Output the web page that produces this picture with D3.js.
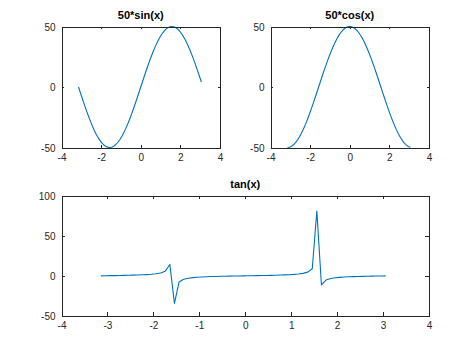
<!DOCTYPE html>
<html><head><meta charset="utf-8">
<script src="https://cdn.jsdelivr.net/npm/d3@7"></script>
<style>
html,body{margin:0;padding:0;background:#fff;}
svg{display:block;font-family:"Liberation Sans",Arial,Helvetica,sans-serif;}
</style></head>
<body>
<svg id="fig" width="474" height="355"></svg>
<script>
const xs = [-3.1416,-3.0416,-2.9416,-2.8416,-2.7416,-2.6416,-2.5416,-2.4416,-2.3416,-2.2416,-2.1416,-2.0416,-1.9416,-1.8416,-1.7416,-1.6416,-1.5416,-1.4416,-1.3416,-1.2416,-1.1416,-1.0416,-0.9416,-0.8416,-0.7416,-0.6416,-0.5416,-0.4416,-0.3416,-0.2416,-0.1416,-0.0416,0.0584,0.1584,0.2584,0.3584,0.4584,0.5584,0.6584,0.7584,0.8584,0.9584,1.0584,1.1584,1.2584,1.3584,1.4584,1.5584,1.6584,1.7584,1.8584,1.9584,2.0584,2.1584,2.2584,2.3584,2.4584,2.5584,2.6584,2.7584,2.8584,2.9584,3.0584];
const sinVals = [0,-4.99,-9.93,-14.78,-19.47,-23.97,-28.23,-32.21,-35.87,-39.17,-42.07,-44.56,-46.60,-48.18,-49.27,-49.87,-49.98,-49.58,-48.69,-47.32,-45.46,-43.16,-40.42,-37.28,-33.78,-29.92,-25.77,-21.37,-16.75,-11.96,-7.06,-2.08,2.92,7.88,12.78,17.54,22.13,26.49,30.59,34.39,37.84,40.91,43.58,45.81,47.58,48.87,49.68,50.00,49.81,49.12,47.95,46.29,44.17,41.62,38.64,35.27,31.56,27.53,23.23,18.69,13.97,9.11,4.16];
const cosVals = [-50,-49.75,-49.00,-47.77,-46.05,-43.88,-41.27,-38.24,-34.84,-31.08,-27.02,-22.68,-18.12,-13.38,-8.50,-3.54,1.46,6.44,11.36,16.17,20.81,25.24,29.43,33.32,36.87,40.06,42.85,45.21,47.11,48.55,49.50,49.96,49.92,49.38,48.34,46.83,44.84,42.41,39.55,36.30,32.68,28.74,24.52,20.04,15.37,10.54,5.61,0.62,-4.38,-9.33,-14.19,-18.90,-23.43,-27.72,-31.74,-35.44,-38.78,-41.74,-44.28,-46.38,-48.01,-49.17,-49.83];
const tanVals = [0,0.1003,0.2027,0.3093,0.4228,0.5463,0.6841,0.8423,1.0296,1.2602,1.5574,1.9648,2.5722,3.6021,5.7979,14.1014,-34.2325,-7.6966,-4.2863,-2.9271,-2.1850,-1.7098,-1.3738,-1.1192,-0.9160,-0.7470,-0.6016,-0.4727,-0.3555,-0.2464,-0.1425,-0.0416,0.0585,0.1597,0.2643,0.3746,0.4935,0.6247,0.7736,0.9474,1.1578,1.4235,1.7777,2.2858,3.0963,4.6373,8.8602,80.7128,-11.3849,-5.2675,-3.3805,-2.4494,-1.8856,-1.5013,-1.2175,-0.9956,-0.8139,-0.6597,-0.5247,-0.4031,-0.2910,-0.1853,-0.0834];

const smallXTicks = [-4,-2,0,2,4];
const smallYTicks = [-50,0,50];
const bigXTicks = [-4,-3,-2,-1,0,1,2,3,4];
const bigYTicks = [-50,0,50,100];
const titles = ["50*sin(x)","50*cos(x)","tan(x)"];

const svg = d3.select("#fig");
const axisColor = "#262626";
const lineColor = "#0072BD";
const fmt = d => String(d);

function panel(idx, box, xDom, yDom, xTicks, yTicks, vals, tickLen) {
  const [x0, y0, x1, y1] = box;
  const xS = d3.scaleLinear().domain(xDom).range([x0, x1]);
  const yS = d3.scaleLinear().domain(yDom).range([y1, y0]);
  const g = svg.append("g");
  g.append("rect").attr("x", x0).attr("y", y0).attr("width", x1 - x0).attr("height", y1 - y0).attr("fill", "#fff");

  const clipId = "clip" + idx;
  svg.append("clipPath").attr("id", clipId).append("rect")
    .attr("x", x0).attr("y", y0 - 1).attr("width", x1 - x0).attr("height", y1 - y0 + 2);

  const line = d3.line().x((d, i) => xS(xs[i])).y(d => yS(d));
  g.append("path").datum(vals).attr("d", line)
    .attr("fill", "none").attr("stroke", lineColor).attr("stroke-width", 1.1)
    .attr("stroke-linejoin", "round")
    .attr("clip-path", "url(#" + clipId + ")");

  const bottom = g.append("g").attr("transform", `translate(0,${y1})`)
    .call(d3.axisBottom(xS).tickValues(xTicks).tickSizeInner(-tickLen).tickSizeOuter(0).tickPadding(6).tickFormat(fmt));
  const top = g.append("g").attr("transform", `translate(0,${y0})`)
    .call(d3.axisTop(xS).tickValues(xTicks).tickSizeInner(-tickLen).tickSizeOuter(0).tickFormat(""));
  const left = g.append("g").attr("transform", `translate(${x0},0)`)
    .call(d3.axisLeft(yS).tickValues(yTicks).tickSizeInner(-tickLen).tickSizeOuter(0).tickPadding(6).tickFormat(fmt));
  const right = g.append("g").attr("transform", `translate(${x1},0)`)
    .call(d3.axisRight(yS).tickValues(yTicks).tickSizeInner(-tickLen).tickSizeOuter(0).tickFormat(""));
  [bottom, top, left, right].forEach(a => {
    a.select(".domain").attr("stroke", axisColor).attr("stroke-width", 1).attr("shape-rendering", "crispEdges");
    a.selectAll(".tick line").attr("stroke", axisColor).attr("stroke-width", 1).attr("shape-rendering", "crispEdges");
    a.selectAll("text").attr("fill", axisColor).attr("font-size", 10)
      .attr("font-family", "'Liberation Sans',Arial,sans-serif");
  });
  left.selectAll("text").attr("dy", "0.35em");
  bottom.selectAll("text").attr("dy", "0.71em");

  g.append("text").attr("x", (x0 + x1) / 2).attr("y", y0 - 8)
    .attr("text-anchor", "middle").attr("font-size", 11).attr("font-weight", "bold")
    .attr("fill", "#000").text(titles[idx]);
}

panel(0, [61.5, 26.5, 220, 147.5], [-4, 4], [-50, 50], smallXTicks, smallYTicks, sinVals, 2.5);
panel(1, [270.5, 26.5, 429, 147.5], [-4, 4], [-50, 50], smallXTicks, smallYTicks, cosVals, 2.5);
panel(2, [61.5, 195.5, 429, 316], [-4, 4], [-50, 100], bigXTicks, bigYTicks, tanVals, 3.7);
</script>
</body></html>
